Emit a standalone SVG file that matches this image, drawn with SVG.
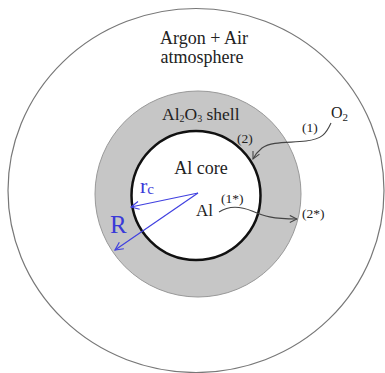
<svg xmlns="http://www.w3.org/2000/svg" width="385" height="373" viewBox="0 0 385 373">
<defs>
<style>
.t{font-family:"Liberation Serif","Tinos","DejaVu Serif","Noto Serif","Times New Roman",serif;fill:#222}
.b{font-family:"Liberation Serif","Tinos","DejaVu Serif","Noto Serif","Times New Roman",serif;fill:#3a3ad8}
.conn{fill:none;stroke:#444;stroke-width:1.1}
.blue{fill:none;stroke:#4040e0;stroke-width:1.2}
</style>
<marker id="ah" viewBox="0 0 10 10" refX="9" refY="5" markerWidth="9" markerHeight="9" orient="auto" markerUnits="userSpaceOnUse">
<path d="M1,1 L9,5 L1,9" fill="none" stroke="#444" stroke-width="1.2"/>
</marker>
<marker id="bh" viewBox="0 0 10 10" refX="9" refY="5" markerWidth="10" markerHeight="10" orient="auto" markerUnits="userSpaceOnUse">
<path d="M1,1 L9,5 L1,9" fill="none" stroke="#4040e0" stroke-width="1.2"/>
</marker>
</defs>
<rect width="385" height="373" fill="#fff"/>
<g id="atmosphere">
<ellipse cx="196" cy="190.5" rx="188" ry="182" fill="#fff" stroke="#777" stroke-width="1.2"/>
<text class="t" x="204" y="44" font-size="18" text-anchor="middle">Argon + Air</text>
<text class="t" x="202" y="63" font-size="18" text-anchor="middle">atmosphere</text>
</g>
<g id="shell">
<circle cx="198" cy="194" r="103" fill="#c6c6c6" stroke="#999" stroke-width="1"/>
<text class="t" x="162" y="120" font-size="17.5">Al<tspan font-size="10" dy="2">2</tspan><tspan dy="-2">O</tspan><tspan font-size="10" dy="2">3</tspan><tspan dy="-2"> shell</tspan></text>
</g>
<g id="core">
<circle cx="196" cy="195.5" r="64.5" fill="#fff" stroke="#111" stroke-width="2.5"/>
<text class="t" x="201" y="174" font-size="18" text-anchor="middle">Al core</text>
<text class="t" x="196" y="216" font-size="17">Al</text>
</g>
<g id="o2">
<text class="t" x="331" y="118" font-size="16">O<tspan font-size="11" dy="3">2</tspan></text>
</g>
<g id="labels">
<text class="t" x="302" y="132" font-size="13.5">(1)</text>
<text class="t" x="237" y="143" font-size="13.5">(2)</text>
<text class="t" x="221" y="203" font-size="13.5">(1*)</text>
<text class="t" x="302" y="218" font-size="13.5">(2*)</text>
</g>
<g id="radii">
<text class="b" x="140" y="193" font-size="22">r<tspan font-size="15" dy="1">c</tspan></text>
<text class="b" x="110" y="233" font-size="25">R</text>
</g>
<g id="connectors">
<path class="conn" d="M331,123 C326,134 322,139 306,141 C290,143 272,141 262,148 C257,152 255,155 253,159" marker-end="url(#ah)"/>
<path class="conn" d="M219,212 C228,206 240,206 252,211 C264,216 272,219 297,219" marker-end="url(#ah)"/>
<path class="blue" d="M198,193 L131,207" marker-end="url(#bh)"/>
<path class="blue" d="M198,193 L115,250" marker-end="url(#bh)"/>
</g>
</svg>
